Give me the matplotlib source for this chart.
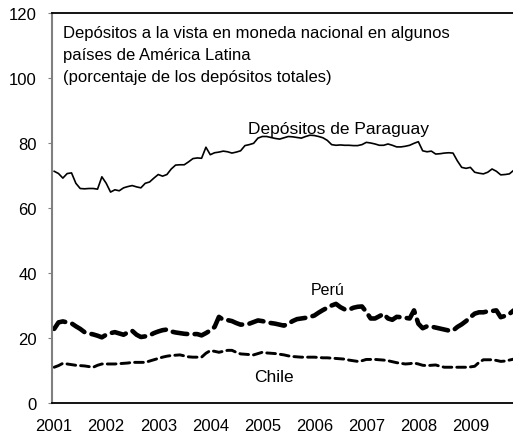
import numpy as np
import matplotlib.pyplot as plt

plt.rcParams['font.family'] = ['Liberation Sans', 'DejaVu Sans']

# monthly series, Jan 2001 .. Nov 2009
paraguay = [71.3, 70.6, 69.2, 70.6, 70.8, 67.6, 66.0, 65.9, 66.0, 66.0, 65.8, 69.6,
            67.6, 64.9, 65.6, 65.3, 66.2, 66.6, 66.9, 66.5, 66.2, 67.6, 68.0, 69.2,
            70.3, 69.8, 70.3, 72.0, 73.2, 73.3, 73.3, 74.2, 75.2, 75.4, 75.3, 78.7,
            76.4, 77.0, 77.2, 77.5, 77.3, 76.9, 77.2, 77.6, 79.2, 79.5, 79.9, 81.5,
            82.0, 82.0, 81.7, 81.4, 81.2, 81.6, 82.0, 81.9, 81.7, 81.5, 82.0, 82.4,
            82.3, 82.0, 81.6, 80.8, 79.5, 79.3, 79.4, 79.3, 79.3, 79.2, 79.2, 79.5,
            80.2, 80.0, 79.7, 79.3, 79.3, 79.7, 79.3, 78.8, 78.8, 79.0, 79.3, 79.9,
            80.4, 77.6, 77.3, 77.5, 76.6, 76.7, 76.9, 77.0, 76.9, 74.5, 72.5, 72.2,
            72.5, 71.0, 70.7, 70.5, 71.0, 72.0, 71.3, 70.2, 70.3, 70.5, 71.6]
peru = [22.8, 24.8, 25.1, 24.8, 24.5, 23.6, 22.8, 21.8, 21.4, 21.1, 20.7, 20.2,
        21.0, 21.5, 21.8, 21.4, 21.0, 21.7, 22.2, 21.0, 20.3, 20.5, 20.8, 21.5,
        22.0, 22.4, 22.6, 22.0, 21.7, 21.5, 21.3, 21.2, 21.2, 21.2, 20.8, 21.5,
        22.3, 23.4, 26.5, 25.6, 25.5, 25.2, 24.6, 24.1, 24.2, 24.4, 24.9, 25.4,
        25.2, 24.9, 24.6, 24.4, 24.1, 23.8, 24.4, 25.2, 25.8, 26.0, 26.2, 26.5,
        26.9, 27.8, 28.6, 29.3, 30.0, 30.5, 29.5, 28.8, 28.7, 29.3, 29.6, 29.7,
        28.0, 26.0, 26.0, 26.7, 27.4, 26.0, 25.6, 26.5, 26.4, 26.2, 26.0, 28.5,
        24.4, 23.0, 23.6, 23.5, 23.2, 22.9, 22.6, 22.3, 22.3, 23.4, 24.2, 25.2,
        26.4, 27.5, 27.9, 27.9, 28.2, 28.3, 28.5, 26.4, 26.8, 27.4, 28.5]
chile = [11.0, 11.5, 12.2, 12.0, 11.8, 11.6, 11.5, 11.4, 11.2, 11.0, 11.6, 12.0,
         12.0, 12.0, 12.0, 12.1, 12.2, 12.3, 12.5, 12.5, 12.5, 12.5, 12.9, 13.3,
         13.7, 14.1, 14.4, 14.6, 14.7, 14.8, 14.5, 14.2, 14.1, 14.1, 14.1, 15.3,
         16.1, 15.9, 15.6, 15.9, 16.2, 16.2, 15.6, 15.1, 15.0, 14.9, 14.8, 15.2,
         15.6, 15.4, 15.3, 15.2, 15.0, 14.8, 14.5, 14.3, 14.2, 14.1, 14.1, 14.1,
         14.1, 14.0, 13.9, 13.9, 13.8, 13.7, 13.6, 13.5, 13.2, 13.0, 12.8, 13.0,
         13.4, 13.4, 13.4, 13.3, 13.2, 13.0, 12.7, 12.4, 12.2, 12.0, 12.1, 12.3,
         12.0, 11.6, 11.5, 11.6, 11.7, 11.3, 11.0, 11.0, 11.0, 11.0, 11.0, 11.0,
         11.1, 11.3, 12.5, 13.3, 13.3, 13.3, 13.1, 12.8, 12.9, 13.2, 13.5]
years = ['2001', '2002', '2003', '2004', '2005', '2006', '2007', '2008', '2009']
yticks = [0, 20, 40, 60, 80, 100, 120]

months = np.arange(len(paraguay))

fig = plt.figure(figsize=(5.13, 4.35), dpi=100)
ax = fig.add_axes([0.1014, 0.0713, 0.9, 0.8965])

ax.plot(months, paraguay, color='black', lw=1.2)
ax.plot(months, peru, color='black', lw=3.3, dashes=(3.2, 1.6), dash_capstyle='round')
ax.plot(months, chile, color='black', lw=2.1, dashes=(3, 1.7), dash_capstyle='round')

ax.set_xlim(-0.5, 106)
ax.set_ylim(0, 120)
ax.set_yticks(yticks)
ax.set_xticks(np.arange(len(years)) * 12)
ax.set_xticklabels(years)
ax.tick_params(axis='x', length=0, pad=11, labelsize=12)
ax.tick_params(axis='y', length=3, color='#808080', labelsize=12, pad=8)

ax.spines['left'].set_color('#808080')
ax.spines['left'].set_linewidth(1.5)
ax.spines['bottom'].set_linewidth(1.3)
ax.spines['top'].set_linewidth(1.3)
ax.spines['right'].set_visible(False)

ax.text(0.024, 0.968, 'Depósitos a la vista en moneda nacional en algunos\n'
        'países de América Latina\n(porcentaje de los depósitos totales)',
        transform=ax.transAxes, ha='left', va='top', fontsize=12, linespacing=1.55)
ax.text(65.5, 84.6, 'Depósitos de Paraguay', ha='center', va='center', fontsize=12.5)
ax.text(63.1, 35, 'Perú', ha='center', va='center', fontsize=11.5)
ax.text(50.8, 8.0, 'Chile', ha='center', va='center', fontsize=12.5)

fig.savefig('out.png', dpi=100)
